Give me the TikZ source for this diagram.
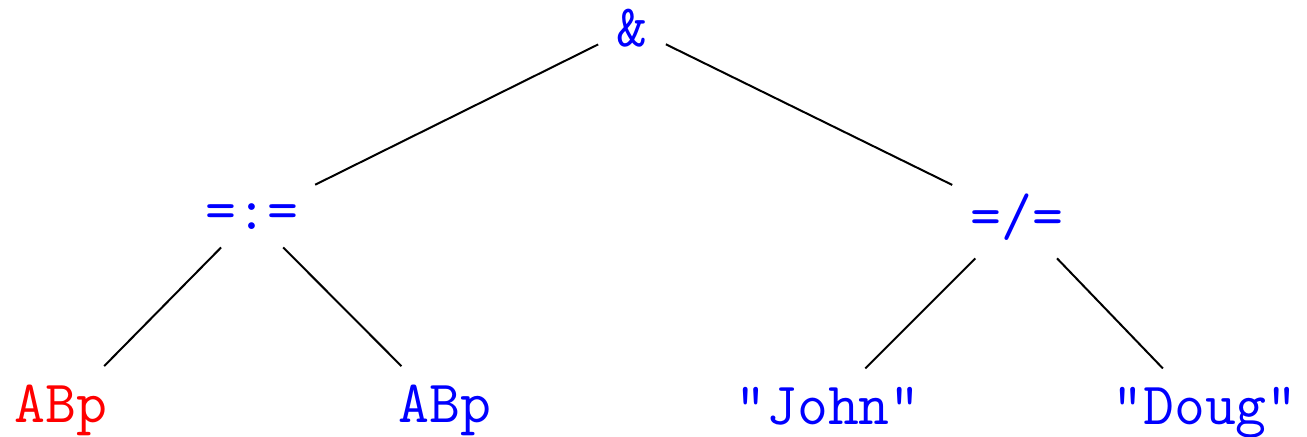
\documentclass[tikz,border=0pt]{standalone}
\begin{document}
\begin{tikzpicture}[x=0.5pt,y=-0.5pt,
  lbl/.style={font=\fontsize{30}{36}\selectfont\ttfamily, text=blue, anchor=base, inner sep=9pt},
  var/.style={lbl, text=red},
  branch/.style={draw=black, line width=1pt}]
  \useasboundingbox (0,0) rectangle (1307,436);
  % operators
  \node[lbl] (and)  at (632,46)  {\&};
  \node[lbl] (asg)  at (252,229) {=:=};
  \node[lbl] (neq)  at (1017,235) {=/=};
  % leaves
  \node[var] (abp1) at (61,422)  {ABp};
  \node[lbl] (abp2) at (445,422) {ABp};
  \node[lbl] (john) at (828,424) {"John"};
  \node[lbl] (doug) at (1205,424) {"Doug"};
  % branches
  \draw[branch] (and) -- (asg);
  \draw[branch] (and) -- (neq);
  \draw[branch] (asg) -- (abp1);
  \draw[branch] (asg) -- (abp2);
  \draw[branch] (neq) -- (john);
  \draw[branch] (neq) -- (doug);
\end{tikzpicture}
\end{document}
